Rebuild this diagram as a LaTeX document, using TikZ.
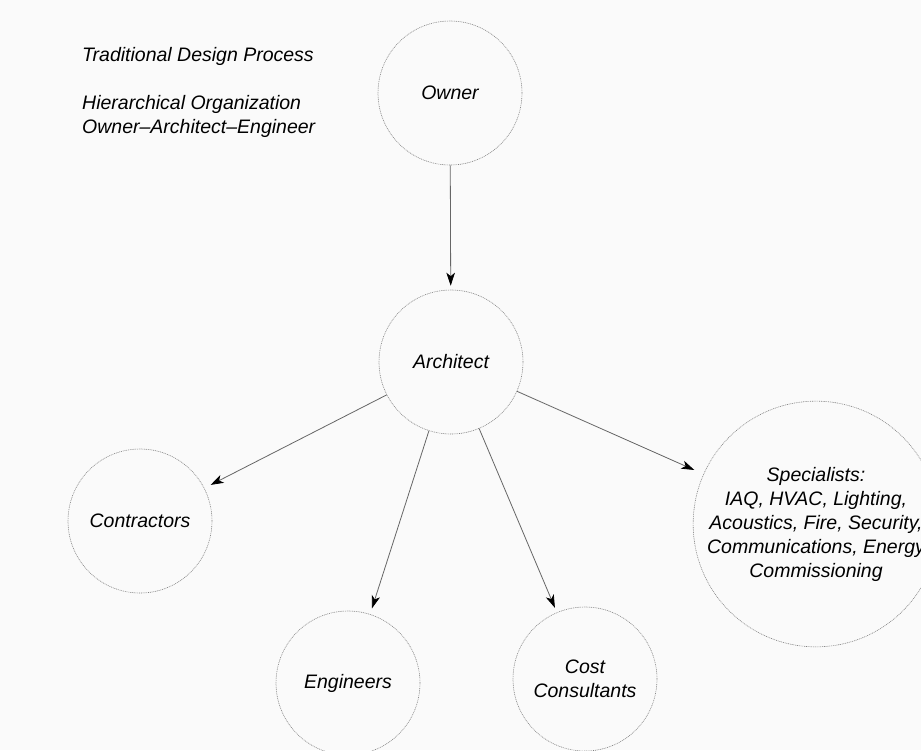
\documentclass[tikz,border=0pt]{standalone}
\usepackage{fontspec}
\setmainfont{Liberation Sans}
\usetikzlibrary{arrows.meta}
\begin{document}
\begin{tikzpicture}[x=1pt,y=-1pt,
  role/.style={circle, draw=black!50, line width=0.6pt,
    dash pattern=on 0.9pt off 0.9pt, minimum size=144pt, inner sep=0pt,
    align=center, font=\fontsize{19.5}{24}\selectfont\itshape},
  link/.style={draw=black!60, line width=0.8pt,
    -{Stealth[length=13pt,width=8.5pt,inset=3.5pt,color=black]}},
  note/.style={anchor=west, align=left, inner sep=0pt,
    font=\fontsize{19.5}{24}\selectfont\itshape}]
\clip (0,0) rectangle (921,750);
\fill[white!98!black] (0,0) rectangle (921,750);

% heading
\node[note] (title) at (82,56) {Traditional Design Process};
\node[note] (sub) at (82,116) {Hierarchical Organization\\Owner--Architect--Engineer};

% participants
\node[role] (owner) at (450,93) {Owner};
\node[role] (arch) at (451,362) {Architect};
\node[role] (contr) at (140,521) {Contractors};
\node[role] (eng) at (348,683) {Engineers};
\node[role] (cost) at (585,679) {Cost\\Consultants};
\node[role, minimum size=244pt] (spec) at (816,524)
  {Specialists:\\IAQ, HVAC, Lighting,\\Acoustics, Fire, Security,\\Communications, Energy\\Commissioning};

% lines of responsibility
\draw[link, shorten >=4pt] (owner) -- (arch);
\draw[link, shorten >=7pt] (arch) -- (contr);
\draw[link, shorten >=6pt] (arch) -- (eng);
\draw[link, shorten >=5pt] (arch) -- (cost);
\draw[link, shorten >=10pt] (arch) -- (spec);
\end{tikzpicture}
\end{document}
